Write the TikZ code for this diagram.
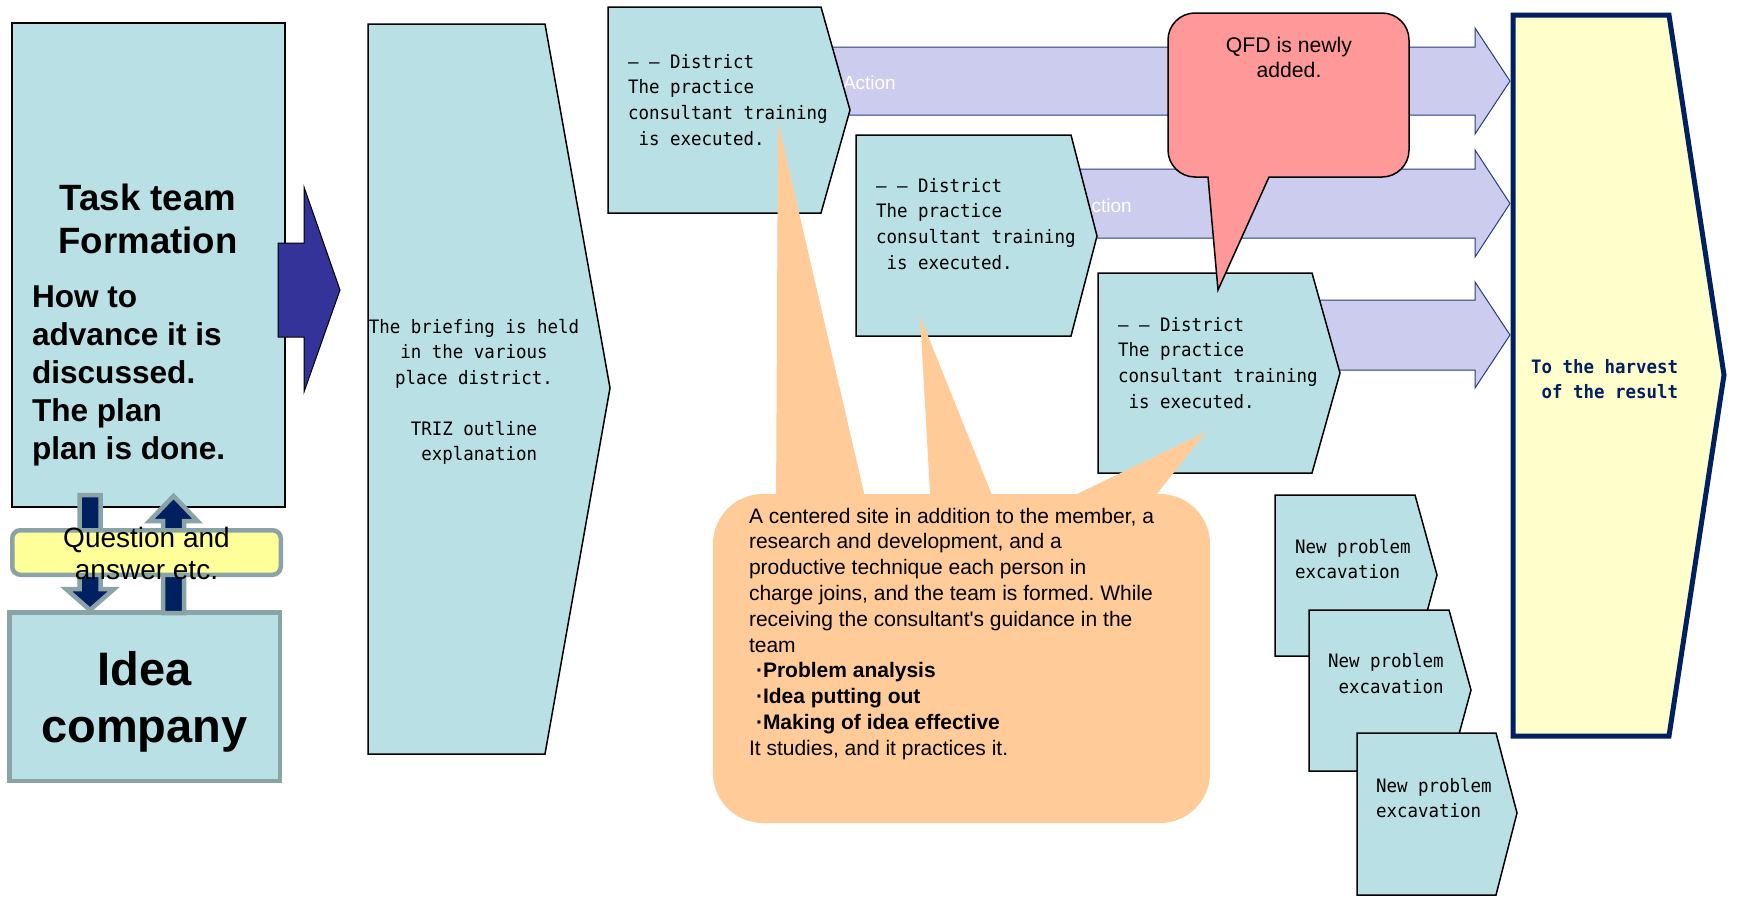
\documentclass[tikz,border=0pt]{standalone}
\usepackage{fontspec}
\setmainfont{Liberation Sans}
\newfontfamily\monofont{DejaVu Sans Mono}[FakeStretch=0.943]
\definecolor{tealc}{RGB}{185,224,228}
\definecolor{navyc}{RGB}{0,32,96}
\definecolor{grayc}{RGB}{138,163,166}
\definecolor{yellowc}{RGB}{255,255,153}
\definecolor{bluec}{RGB}{51,51,153}
\definecolor{lavc}{RGB}{204,204,238}
\definecolor{lavline}{RGB}{40,60,130}
\definecolor{pinkc}{RGB}{255,153,153}
\definecolor{orangec}{RGB}{255,204,153}
\definecolor{hyellow}{RGB}{255,255,204}
\frenchspacing
\begin{document}
\begin{tikzpicture}[x=1pt,y=-1pt,
  tealbox/.style={fill=tealc,draw=black,line width=1.5pt,line join=miter},
  grayedge/.style={draw=grayc,line width=4.5pt,line join=miter},
  lavarrow/.style={fill=lavc,draw=lavline,line width=1pt,line join=miter},
  txt/.style={inner sep=0pt,outer sep=0pt},
  mono/.style={txt,anchor=base west,font=\monofont\fontsize{18.5}{25.5}\selectfont},
  callouttxt/.style={txt,anchor=base west,font=\fontsize{21}{25}\selectfont},
]
\useasboundingbox[fill=white] (0,0) rectangle (1738,902);

% ---- left column
\draw[tealbox] (12,23) rectangle (285,507);
\node[txt,anchor=base,font=\bfseries\fontsize{36.6}{43}\selectfont] (tt1) at (148,210) {Task team};
\node[txt,anchor=base,font=\bfseries\fontsize{36.6}{43}\selectfont] (tt2) at (148,253) {Formation};
\foreach \t [count=\i from 0] in {{How to},{advance it is},{discussed.},{The plan},{plan is done.}}
  \node[txt,anchor=base west,font=\bfseries\fontsize{31.6}{37}\selectfont] (hw\i) at (32,307+38.2*\i) {\t};

\draw[fill=tealc,grayedge] (9.25,612.25) rectangle (279.75,780.75);
\node[txt,anchor=base,font=\bfseries\fontsize{47}{57}\selectfont] (ic1) at (144.5,685) {Idea};
\node[txt,anchor=base,font=\bfseries\fontsize{47}{57}\selectfont] (ic2) at (144.5,742) {company};

\draw[fill=navyc,grayedge] (79.5,495) -- (100.5,495) -- (100.5,589) -- (114,589) -- (90,610) -- (66,589) -- (79.5,589) -- cycle;
\draw[fill=navyc,grayedge] (173.5,496) -- (197.5,521) -- (184,521) -- (184,613) -- (163,613) -- (163,521) -- (149.5,521) -- cycle;

\draw[fill=yellowc,grayedge,rounded corners=8pt] (12.25,530.25) rectangle (280.75,574.75);
\node[txt,anchor=base,font=\fontsize{28}{32}\selectfont] (qa1) at (146.5,547) {Question and};
\node[txt,anchor=base,font=\fontsize{28}{32}\selectfont] (qa2) at (146.5,579) {answer etc.};

\draw[fill=bluec,draw=black,line width=1pt,line join=miter] (278,243) -- (304,243) -- (304,187) -- (340,290) -- (304,392) -- (304,337) -- (278,337) -- cycle;

% ---- briefing
\draw[tealbox] (368,24) -- (545,24) -- (610,388) -- (545,754) -- (368,754) -- cycle;
\foreach \t/\yy [count=\i] in {{The briefing is held}/333,{in the various}/358.5,{place district.}/384,{TRIZ outline}/435,{\hphantom{x}explanation}/460.5}
  \node[mono,anchor=base] (br\i) at (474,\yy) {\t};

% ---- action arrows
\draw[lavarrow] (820,47) -- (1475,47) -- (1475,28) -- (1510,81) -- (1475,134) -- (1475,115) -- (820,115) -- cycle;
\draw[lavarrow] (1060,169) -- (1475,169) -- (1475,150) -- (1510,203.5) -- (1475,257) -- (1475,238) -- (1060,238) -- cycle;
\draw[lavarrow] (1300,300) -- (1475,300) -- (1475,282) -- (1510,335) -- (1475,388) -- (1475,370) -- (1300,370) -- cycle;
\node[txt,anchor=base west,text=white,font=\fontsize{19}{23}\selectfont] (ac1) at (843,89) {Action};
\node[txt,anchor=base west,text=white,font=\fontsize{19}{23}\selectfont] (ac2) at (1079,212) {Action};

% ---- district boxes
\draw[tealbox] (608,7) -- (821,7) -- (850,110) -- (821,213) -- (608,213) -- cycle;
\draw[tealbox] (856,135) -- (1071,135) -- (1097,236) -- (1071,336) -- (856,336) -- cycle;
\draw[tealbox] (1098,273) -- (1312,273) -- (1340,373) -- (1312,473) -- (1098,473) -- cycle;
\foreach \bx/\by/\nm in {628/68/da, 876/192/db, 1118/331/dc}{
  \foreach \t [count=\i from 0] in {{– – District},{The practice},{consultant training},{\hphantom{x}is executed.}}
    \node[mono] (\nm\i) at (\bx,\by+25.7*\i) {\t};
}

% ---- QFD callout
\draw[fill=pinkc,draw=black,line width=1.5pt,line join=miter]
  (1208,177) -- (1195,177) arc[start angle=90,end angle=180,radius=27]
  -- (1168,40) arc[start angle=180,end angle=270,radius=27]
  -- (1382,13) arc[start angle=270,end angle=360,radius=27]
  -- (1409,150) arc[start angle=0,end angle=90,radius=27]
  -- (1269,177) -- (1218,290) -- cycle;
\node[txt,anchor=base,font=\fontsize{21.2}{25}\selectfont] (qfd1) at (1289,52) {QFD is newly};
\node[txt,anchor=base,font=\fontsize{21.2}{25}\selectfont] (qfd2) at (1289,77) {added.};

% ---- orange callout
\fill[orangec,rounded corners=50pt] (713,494) rectangle (1210,823);
\fill[orangec] (776,510) -- (778,122) -- (868,510) -- cycle;
\fill[orangec] (931,510) -- (920,316) -- (998,510) -- cycle;
\fill[orangec] (1077,494) -- (1206,432) -- (1152,500) -- (1140,520) -- (1077,520) -- cycle;
\foreach \t [count=\i from 0] in {{A centered site in addition to the member, a},{research and development, and a},{productive technique each person in},{charge joins, and the team is formed. While},{receiving the consultant\textquotesingle s guidance in the},{team},{\hspace*{7pt}\textbf{·Problem analysis}},{\hspace*{7pt}\textbf{·Idea putting out}},{\hspace*{7pt}\textbf{·Making of idea effective}},{It studies, and it practices it.}}
  \node[callouttxt] (ot\i) at (749,523+25.8*\i) {\t};

% ---- new problem boxes
\draw[tealbox] (1275,495) -- (1415,495) -- (1437,575) -- (1415,656) -- (1275,656) -- cycle;
\node[mono] (np1a) at (1295,553) {New problem};
\node[mono] (np1b) at (1295,578) {excavation};
\draw[tealbox] (1309,610) -- (1449,610) -- (1471,690) -- (1449,771) -- (1309,771) -- cycle;
\node[mono] (np2a) at (1328,667) {New problem};
\node[mono] (np2b) at (1328,693) {\hphantom{x}excavation};
\draw[tealbox] (1357,733) -- (1496,733) -- (1517,813) -- (1496,895) -- (1357,895) -- cycle;
\node[mono] (np3a) at (1376,792) {New problem};
\node[mono] (np3b) at (1376,817) {excavation};

% ---- harvest
\draw[fill=hyellow,draw=navyc,line width=5pt,line join=miter] (1513,15) -- (1669,15) -- (1724,375) -- (1669,736) -- (1513,736) -- cycle;
\node[mono,text=navyc,font=\monofont\bfseries\fontsize{18.5}{25.5}\selectfont] (hv1) at (1531,373) {To the harvest};
\node[mono,text=navyc,font=\monofont\bfseries\fontsize{18.5}{25.5}\selectfont] (hv2) at (1531,398) {\hphantom{x}of the result};
\end{tikzpicture}
\end{document}
